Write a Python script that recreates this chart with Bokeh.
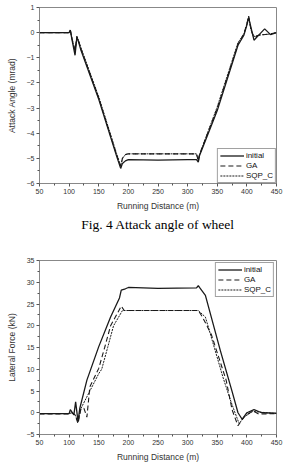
from bokeh.plotting import figure
from bokeh.layouts import column
from bokeh.models import Range1d, FixedTicker, Title
from bokeh.embed import file_html
from bokeh.resources import INLINE

# ---- Fig 4 : attack angle ----
a_init_x = [50, 100, 102, 105, 110, 113, 115, 120, 150, 180, 187, 190, 195, 200, 250, 300, 315, 318, 320, 350, 385, 395, 400, 403, 407, 412, 420, 430, 440, 450]
a_init_y = [0, 0, 0.1, -0.3, -0.9, -0.2, -0.3, -0.7, -2.65, -4.9, -5.4, -5.2, -5.1, -5.05, -5.07, -5.05, -5.05, -5.15, -4.9, -3.1, -0.5, -0.1, 0.3, 0.6, 0.2, -0.3, -0.1, 0.15, -0.08, 0]
a_ga_x = [50, 100, 102, 105, 110, 113, 115, 120, 150, 180, 187, 190, 195, 200, 250, 300, 315, 318, 320, 350, 385, 395, 400, 403, 407, 412, 420, 440, 450]
a_ga_y = [0, 0, 0.1, -0.25, -0.7, -0.15, -0.25, -0.65, -2.6, -4.85, -5.3, -5.0, -4.85, -4.82, -4.82, -4.82, -4.82, -5.1, -4.85, -3.0, -0.45, -0.05, 0.35, 0.65, 0.1, -0.2, -0.1, -0.05, 0]
a_sqp_x = [50, 100, 102, 105, 110, 113, 115, 120, 150, 180, 187, 190, 195, 200, 250, 300, 315, 318, 320, 350, 385, 395, 400, 403, 407, 412, 420, 440, 450]
a_sqp_y = [0, 0, 0.1, -0.25, -0.75, -0.15, -0.25, -0.6, -2.55, -4.8, -5.3, -5.0, -4.85, -4.82, -4.82, -4.82, -4.82, -5.1, -4.85, -2.95, -0.4, -0.05, 0.35, 0.65, 0.1, -0.15, -0.1, -0.05, 0]

# ---- Lateral force ----
f_init_x = [50, 100, 102, 108, 111, 115, 118, 130, 150, 170, 185, 188, 195, 200, 250, 315, 318, 320, 330, 355, 375, 385, 392, 400, 412, 425, 450]
f_init_y = [-0.2, -0.2, 0.7, -0.5, 2.5, -2.0, 1.0, 7.5, 15.2, 22.0, 26.4, 28.2, 28.5, 28.8, 28.6, 28.7, 29.2, 28.8, 27.0, 14.4, 4.9, 0, -1.5, 0, 0.7, 0, -0.1]
f_ga_x = [50, 100, 105, 110, 115, 120, 125, 130, 135, 150, 160, 170, 188, 193, 250, 318, 325, 340, 365, 375, 385, 395, 410, 420, 450]
f_ga_y = [-0.3, -0.3, 0, -0.5, -2.5, 1.0, 1.0, -1.0, 6.0, 10.2, 15.0, 20.0, 24.5, 23.5, 23.5, 23.5, 22.0, 18.0, 7.5, 0.7, -3.0, -1.0, 0.5, -0.3, -0.2]
f_sqp_x = [50, 100, 105, 110, 115, 120, 135, 150, 155, 165, 175, 190, 250, 318, 330, 345, 360, 372, 380, 387, 395, 410, 450]
f_sqp_y = [-0.2, -0.2, 0, -0.5, -2.0, 1.0, 5.0, 9.0, 10.0, 15.0, 20.0, 23.5, 23.5, 23.5, 22.0, 15.0, 8.0, 3.0, 0, -2.5, -1.0, 0.3, -0.2]

x_ticks = [50, 100, 150, 200, 250, 300, 350, 400, 450]
a_ticks = [-6, -5, -4, -3, -2, -1, 0, 1]
f_ticks = [-5, 0, 5, 10, 15, 20, 25, 30, 35]

FONT = "Liberation Sans"
LC = "#1a1a1a"


def style(p, xlabel, ylabel, yticks, xticks):
    p.xaxis.ticker = FixedTicker(ticks=xticks, minor_ticks=[x + 25 for x in xticks[:-1]])
    p.yaxis.ticker = FixedTicker(ticks=yticks, minor_ticks=[(yticks[i] + yticks[i + 1]) / 2 for i in range(len(yticks) - 1)])
    p.xaxis.axis_label = xlabel
    p.yaxis.axis_label = ylabel
    for ax in (p.xaxis, p.yaxis):
        ax.axis_label_text_font = FONT
        ax.axis_label_text_font_size = "8.5px"
        ax.axis_label_text_font_style = "normal"
        ax.axis_label_text_color = "#333333"
        ax.major_label_text_font = FONT
        ax.major_label_text_font_size = "7px"
        ax.major_label_text_color = "#333333"
        ax.axis_line_color = "#888888"
        ax.major_tick_line_color = "#555555"
        ax.minor_tick_line_color = "#555555"
        ax.major_tick_out = 3
        ax.major_tick_in = 0
        ax.minor_tick_out = 2
        ax.minor_tick_in = 0
        ax.major_label_standoff = 2
    p.xaxis.axis_label_standoff = 4
    p.yaxis.axis_label_standoff = 7
    p.grid.visible = False
    p.outline_line_color = "#888888"
    p.outline_line_width = 1


def legend_style(p, loc):
    lg = p.legend[0]
    lg.location = loc
    lg.label_text_font = FONT
    lg.label_text_font_size = "8px"
    lg.label_text_color = "#111111"
    lg.glyph_width = 24
    lg.glyph_height = 9
    lg.label_height = 9
    lg.label_standoff = 2
    lg.spacing = 1
    lg.padding = 2
    lg.border_line_color = "#444444"
    lg.border_line_width = 1
    lg.background_fill_alpha = 1


p1 = figure(width=284, height=235, output_backend="svg", toolbar_location=None,
            x_range=Range1d(50, 450), y_range=Range1d(-6, 1),
            min_border_left=39, min_border_right=6, min_border_top=7, min_border_bottom=52)
p1.line(a_init_x, a_init_y, line_color=LC, line_width=1.3, legend_label="initial")
p1.line(a_ga_x, a_ga_y, line_color=LC, line_width=1.1, line_dash="5 3", legend_label="GA")
p1.line(a_sqp_x, a_sqp_y, line_color=LC, line_width=1.0, line_dash="2 1", legend_label="SQP_C")
style(p1, "Running Distance (m)", "Attack Angle (mrad)", a_ticks, x_ticks)
legend_style(p1, "bottom_right")
p1.legend[0].margin = 0
cap = Title(text="Fig. 4 Attack angle of wheel", align="center", text_font="Liberation Serif",
            text_font_size="13.5px", text_font_style="normal", text_color="#000000",
            offset=0, standoff=3)
p1.add_layout(cap, "below")

p2 = figure(width=284, height=229, output_backend="svg", toolbar_location=None,
            x_range=Range1d(50, 450), y_range=Range1d(-5, 35),
            min_border_left=39, min_border_right=8, min_border_top=25, min_border_bottom=29)
p2.line(f_init_x, f_init_y, line_color=LC, line_width=1.3, legend_label="initial")
p2.line(f_ga_x, f_ga_y, line_color=LC, line_width=1.1, line_dash="5 3", legend_label="GA")
p2.line(f_sqp_x, f_sqp_y, line_color=LC, line_width=1.0, line_dash="2 1", legend_label="SQP_C")
style(p2, "Running Distance (m)", "Lateral Force (kN)", f_ticks, x_ticks)
legend_style(p2, "top_right")
p2.legend[0].margin = 2

layout = column(p1, p2, spacing=0)
open("out.html", "w").write(file_html(layout, INLINE))
